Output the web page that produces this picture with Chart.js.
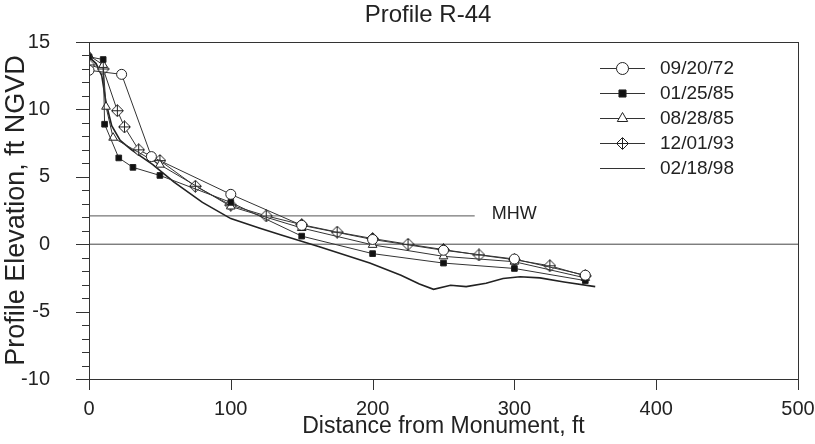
<!DOCTYPE html>
<html>
<head>
<meta charset="utf-8">
<script src="https://cdn.jsdelivr.net/npm/chart.js@4"></script>
<style>
  html, body { margin: 0; padding: 0; background: #fff; }
  #wrap { width: 815px; height: 444px; }
</style>
</head>
<body>
<div id="wrap"><canvas id="profileChart" width="815" height="444"></canvas></div>
<script>
// survey dates (legend order)
const surveyLabels = ['09/20/72', '01/25/85', '08/28/85', '12/01/93', '02/18/98'];

// 09/20/72
const dist72 = [0, 23, 44, 100, 150, 200, 250, 300, 350];
const elev72 = [12.9, 12.6, 6.5, 3.7, 1.4, 0.35, -0.45, -1.1, -2.3];

// 01/25/85
const dist85a = [0, 10, 11, 21, 31, 50, 100, 150, 200, 250, 300, 350];
const elev85a = [13.9, 13.7, 8.9, 6.4, 5.7, 5.1, 3.1, 0.6, -0.7, -1.4, -1.8, -2.7];

// 08/28/85
const dist85b = [0, 10, 12, 17, 50, 100, 150, 200, 250, 300, 350];
const elev85b = [14.0, 13.3, 10.2, 7.9, 5.9, 2.8, 1.2, -0.05, -0.9, -1.3, -2.5];

// 12/01/93
const dist93 = [0, 10, 20, 25, 35, 50, 75, 100, 125, 150, 175, 200, 225, 250, 275, 300, 325, 350];
const elev93 = [13.3, 13.0, 9.9, 8.7, 7.0, 6.2, 4.3, 2.9, 2.1, 1.45, 0.9, 0.42, 0.0, -0.4, -0.8, -1.15, -1.6, -2.35];

// 02/18/98
const dist98 = [0, 5, 9, 12, 16, 22, 30, 45, 60, 80, 100, 120, 135, 163, 198, 220, 233, 243, 255, 266, 280, 292, 304, 318, 335, 357];
const elev98 = [13.9, 13.4, 12.5, 10.5, 8.8, 7.7, 7.0, 5.9, 4.6, 3.1, 1.9, 1.2, 0.7, -0.2, -1.4, -2.3, -2.95, -3.35, -3.05, -3.15, -2.9, -2.55, -2.42, -2.5, -2.8, -3.15];

// reference lines
const mhwDist = [0, 272];
const mhwElev = [2.1, 2.1];
const zeroDist = [0, 500];
const zeroElev = [0, 0];

const xTicks = [0, 100, 200, 300, 400, 500];
const yTicks = [-10, -5, 0, 5, 10, 15];

function pts(xs, ys) {
    return xs.map((x, i) => ({ x: x, y: ys[i] }));
}

// diamond with a cross, for 12/01/93
function makeDiamond(size) {
    const c = document.createElement('canvas');
    c.width = size; c.height = size;
    const g = c.getContext('2d');
    const m = size / 2;
    g.beginPath();
    g.moveTo(m, 0.5); g.lineTo(size - 0.5, m); g.lineTo(m, size - 0.5); g.lineTo(0.5, m);
    g.closePath();
    g.fillStyle = '#fff'; g.fill();
    g.strokeStyle = '#222'; g.lineWidth = 1; g.stroke();
    g.beginPath();
    g.moveTo(m, 1); g.lineTo(m, size - 1);
    g.moveTo(1, m); g.lineTo(size - 1, m);
    g.stroke();
    return c;
}
const diamondImg = makeDiamond(13);

const FONT = '"Liberation Sans", Arial, sans-serif';
const ink = '#222';

const framePlugin = {
    id: 'frame',
    afterDraw(chart) {
        const { ctx, chartArea: a, scales: { x, y } } = chart;
        ctx.save();
        ctx.strokeStyle = '#333';
        ctx.lineWidth = 1;
        ctx.strokeRect(a.left + 0.5, a.top + 0.5, a.right - a.left, a.bottom - a.top);
        // y ticks: minor every 1 ft, major every 5 ft
        ctx.beginPath();
        for (let v = -10; v <= 15; v++) {
            const py = Math.round(y.getPixelForValue(v)) + 0.5;
            const len = v % 5 === 0 ? 13 : 7;
            ctx.moveTo(a.left - len, py);
            ctx.lineTo(a.left, py);
        }
        // x ticks
        xTicks.forEach(v => {
            const px = Math.round(x.getPixelForValue(v)) + 0.5;
            ctx.moveTo(px, a.bottom);
            ctx.lineTo(px, a.bottom + 11);
        });
        ctx.stroke();

        // title
        ctx.fillStyle = ink;
        ctx.font = '24px ' + FONT;
        ctx.textAlign = 'center';
        ctx.textBaseline = 'middle';
        ctx.fillText('Profile R-44', 428, 15);

        // MHW label
        ctx.font = '18px ' + FONT;
        ctx.textAlign = 'left';
        ctx.fillText('MHW', x.getPixelForValue(284), y.getPixelForValue(2.1) - 2);

        // legend
        chart.data.datasets.slice(0, 5).forEach((ds, i) => {
            const ly = 68 + i * 25;
            ctx.strokeStyle = '#333';
            ctx.lineWidth = 1;
            ctx.beginPath();
            ctx.moveTo(600, ly + 0.5);
            ctx.lineTo(645, ly + 0.5);
            ctx.stroke();
            if (ds.legendRadius) {
                ctx.fillStyle = ds.pointBackgroundColor;
                ctx.strokeStyle = ds.pointBorderColor;
                Chart.helpers.drawPoint(ctx, {
                    pointStyle: ds.pointStyle,
                    radius: ds.legendRadius,
                    borderWidth: 1,
                    rotation: 0
                }, 622.5, ly + 0.5);
            }
            ctx.fillStyle = ink;
            ctx.font = '19px ' + FONT;
            ctx.textAlign = 'left';
            ctx.fillText(surveyLabels[i], 660, ly + 1);
        });
        ctx.restore();
    }
};

const ctx = document.getElementById('profileChart').getContext('2d');

function lineSet(label, data, style, radius, bg, extra) {
    return Object.assign({
        label: label,
        data: data,
        showLine: true,
        borderColor: '#333',
        borderWidth: 1,
        pointStyle: style,
        pointRadius: radius,
        pointBackgroundColor: bg,
        pointBorderColor: '#222',
        pointBorderWidth: 1,
        legendRadius: radius + 1,
        tension: 0
    }, extra || {});
}

const chart = new Chart(ctx, {
    type: 'scatter',
    data: {
        datasets: [
            lineSet(surveyLabels[0], pts(dist72, elev72), 'circle', 5, '#fff'),
            lineSet(surveyLabels[1], pts(dist85a, elev85a), 'rect', 4, '#111'),
            lineSet(surveyLabels[2], pts(dist85b, elev85b), 'triangle', 5, '#fff'),
            lineSet(surveyLabels[3], pts(dist93, elev93), diamondImg, 6, '#fff'),
            lineSet(surveyLabels[4], pts(dist98, elev98), false, 0, '#fff', { borderWidth: 1.6, borderColor: '#222', legendRadius: 0 }),
            lineSet('MHW', pts(mhwDist, mhwElev), false, 0, '#fff', { borderColor: '#555', legendRadius: 0 }),
            lineSet('zero', pts(zeroDist, zeroElev), false, 0, '#fff', { borderColor: '#444', legendRadius: 0 })
        ]
    },
    options: {
        responsive: false,
        animation: false,
        events: [],
        layout: { padding: { left: 0, right: 17, top: 42, bottom: 0 } },
        plugins: {
            legend: { display: false },
            tooltip: { enabled: false },
            title: { display: false }
        },
        scales: {
            x: {
                type: 'linear',
                min: 0,
                max: 500,
                afterBuildTicks: s => { s.ticks = xTicks.map(v => ({ value: v })); },
                afterFit: s => { s.height = 444 - 379; s.paddingLeft = 0; s.paddingRight = 0; },
                grid: { display: false },
                border: { display: false },
                ticks: {
                    color: ink,
                    padding: 10,
                    maxRotation: 0,
                    font: { family: FONT, size: 20 }
                },
                title: {
                    display: true,
                    text: 'Distance from Monument, ft',
                    color: ink,
                    font: { family: FONT, size: 23 },
                    padding: { top: 0, bottom: 4 }
                }
            },
            y: {
                type: 'linear',
                min: -10,
                max: 15,
                afterBuildTicks: s => { s.ticks = yTicks.map(v => ({ value: v })); },
                afterFit: s => { s.width = 89; s.paddingTop = 0; s.paddingBottom = 0; },
                grid: { display: false },
                border: { display: false },
                ticks: {
                    color: ink,
                    padding: 31,
                    font: { family: FONT, size: 20 }
                },
                title: {
                    display: true,
                    text: 'Profile Elevation, ft NGVD',
                    color: ink,
                    font: { family: FONT, size: 27 },
                    padding: { top: 0, bottom: 0 }
                }
            }
        }
    },
    plugins: [framePlugin]
});
</script>
</body>
</html>
